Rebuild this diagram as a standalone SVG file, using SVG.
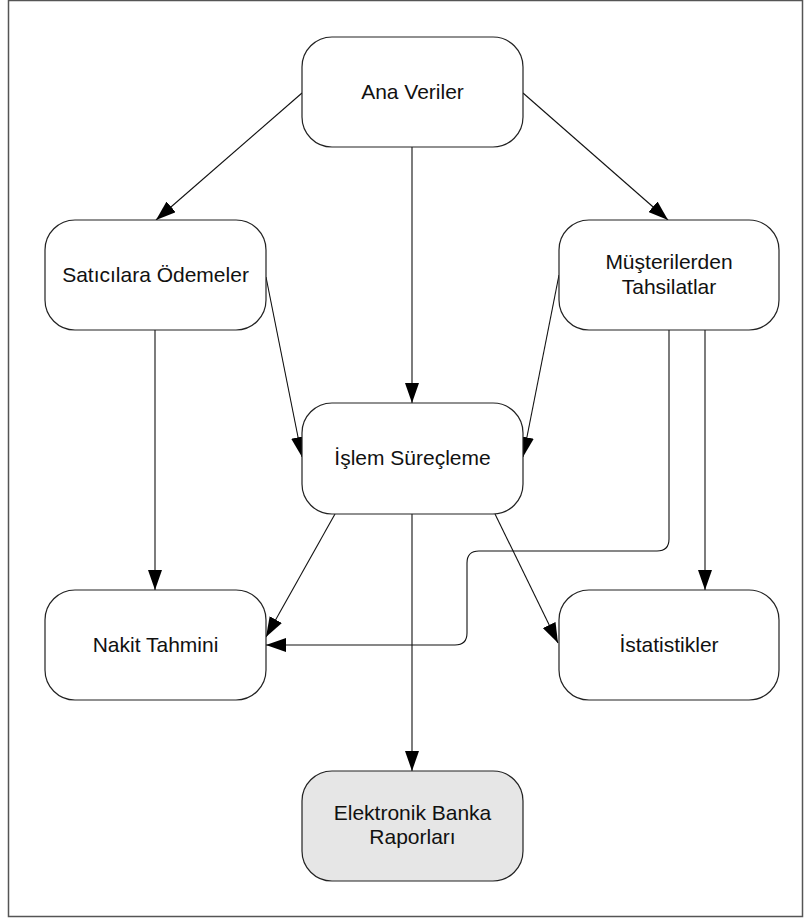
<svg xmlns="http://www.w3.org/2000/svg" width="804" height="918" viewBox="0 0 804 918">
  <style>
    .node rect { fill: #ffffff; stroke: #222222; stroke-width: 1.2; }
    .node.shaded rect { fill: #e6e6e6; }
    .node text { font-family: "Liberation Sans", Arial, sans-serif; font-size: 21px; fill: #111111; text-anchor: middle; }
    .edge { fill: none; stroke: #111111; stroke-width: 1.1; marker-end: url(#arrow); }
  </style>
  <defs>
    <marker id="arrow" markerUnits="userSpaceOnUse" markerWidth="20" markerHeight="14" refX="20" refY="7" orient="auto">
      <path d="M0,0 L20,7 L0,14 z" fill="#000000"/>
    </marker>
  </defs>

  <!-- page frame -->
  <rect x="8.5" y="0.5" width="794" height="916" fill="#ffffff" stroke="#555555" stroke-width="1.5"/>

  <!-- connectors -->
  <g id="connectors">
    <line class="edge" x1="302" y1="93" x2="156" y2="220"/>
    <line class="edge" x1="523" y1="93" x2="668" y2="220"/>
    <line class="edge" x1="412" y1="147" x2="412" y2="403"/>
    <line class="edge" x1="266" y1="277" x2="302" y2="457"/>
    <line class="edge" x1="559" y1="275" x2="523" y2="457"/>
    <line class="edge" x1="155" y1="330" x2="155" y2="590"/>
    <line class="edge" x1="705" y1="330" x2="705" y2="590"/>
    <line class="edge" x1="335" y1="514" x2="266" y2="637"/>
    <line class="edge" x1="495" y1="514" x2="558" y2="643"/>
    <line class="edge" x1="412" y1="514" x2="412" y2="771"/>
    <path class="edge" d="M669,330 V539 Q669,551 657,551 H479 Q467,551 467,563 V633 Q467,645 455,645 H266"/>
  </g>

  <!-- nodes -->
  <g id="ana-veriler" class="node">
    <rect x="302" y="37" width="221" height="110" rx="30" ry="30"/>
    <text x="412.5" y="99">Ana Veriler</text>
  </g>
  <g id="saticilara-odemeler" class="node">
    <rect x="45" y="220" width="221" height="110" rx="30" ry="30"/>
    <text x="155.5" y="282">Satıcılara Ödemeler</text>
  </g>
  <g id="musterilerden-tahsilatlar" class="node">
    <rect x="559" y="220" width="220" height="110" rx="30" ry="30"/>
    <text x="669" y="269">Müşterilerden</text>
    <text x="669" y="294">Tahsilatlar</text>
  </g>
  <g id="islem-surecleme" class="node">
    <rect x="302" y="403" width="221" height="111" rx="30" ry="30"/>
    <text x="412.5" y="465">İşlem Süreçleme</text>
  </g>
  <g id="nakit-tahmini" class="node">
    <rect x="45" y="590" width="221" height="110" rx="30" ry="30"/>
    <text x="155.5" y="652">Nakit Tahmini</text>
  </g>
  <g id="istatistikler" class="node">
    <rect x="559" y="590" width="220" height="110" rx="30" ry="30"/>
    <text x="669" y="652">İstatistikler</text>
  </g>
  <g id="elektronik-banka-raporlari" class="node shaded">
    <rect x="302" y="771" width="221" height="110" rx="30" ry="30"/>
    <text x="412.5" y="820">Elektronik Banka</text>
    <text x="412.5" y="844">Raporları</text>
  </g>
</svg>
